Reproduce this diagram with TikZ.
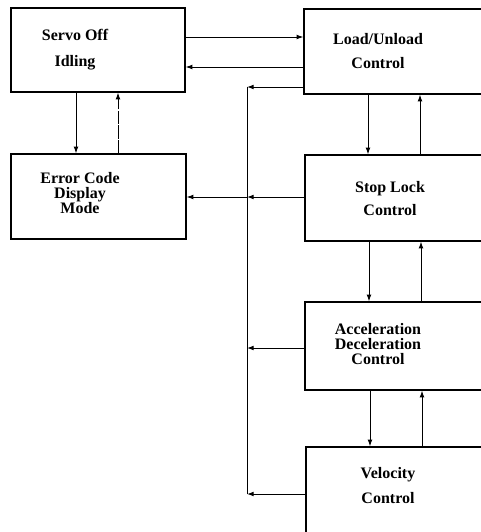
\documentclass[tikz,border=0pt]{standalone}
\usepackage{fontspec}
\setmainfont{Liberation Serif}
\usetikzlibrary{positioning,arrows.meta}

\begin{document}
\begin{tikzpicture} [x=0.75pt,y=-0.75pt,
	blk/.style 2 args={draw,line width=1pt,minimum width=#1*0.75pt,minimum height=#2*0.75pt,inner sep=0pt},
	txt/.style={align=center,font=\fontsize{12}{11.6}\selectfont\bfseries,inner sep=0pt},
	line/.style={line width=0.7pt},
	arr/.style={line width=0.7pt,-{Latex[length=5pt,width=3.6pt]}}]
\useasboundingbox[fill=white] (0,0) rectangle (481,532);
\def\busx{247}

% boxes
\node[blk={174}{84}] (servo) at (98,50) {};
\node[blk={220}{85}] (load) at (414,51.5) {};
\node[blk={175}{85}] (error) at (98.5,196.5) {};
\node[blk={220}{86}] (stop) at (415,198) {};
\node[blk={220}{88}] (accel) at (415,346) {};
\node[blk={220}{113}] (velo) at (416,503.5) {};

\node[txt] (servo-t) at (75,50) {Servo Off\\[7.9pt]Idling};
\node[txt] (load-t) at (378,51) {Load/Unload\\[6.4pt]Control};
\node[txt] (error-t) at (80,193) {Error Code\\Display\\Mode};
\node[txt] (stop-t) at (390,198.5) {Stop Lock\\[5.6pt]Control};
\node[txt] (accel-t) at (378,344) {Acceleration\\Deceleration\\Control};
\node[txt] (velo-t) at (388,485.5) {Velocity\\[7.1pt]Control};

% servo off <-> load/unload, error code
\draw[arr] (servo.east |- 0,37) -- (load.west |- 0,37);
\draw[arr] (load.west |- 0,67) -- (servo.east |- 0,67);
\draw[arr] (servo.south -| 76,0) -- (error.north -| 76,0);
\draw[arr,dash pattern=on 10pt off 1pt] (error.north -| 118,0) -- (servo.south -| 118,0);

% right column chain
\foreach \a/\b/\x in {load/stop/368,stop/accel/369,accel/velo/370}
	\draw[arr] (\a.south -| \x,0) -- (\b.north -| \x,0);
\foreach \a/\b/\x in {stop/load/420,accel/stop/421,velo/accel/422}
	\draw[arr] (\a.north -| \x,0) -- (\b.south -| \x,0);

% status bus back to the display
\coordinate (bus1) at (\busx,87);
\coordinate (bus2) at (\busx,197);
\coordinate (bus3) at (\busx,348);
\coordinate (bus4) at (\busx,494);
\draw[line] (bus1) -- (bus4);
\draw[arr] (load.west |- bus1) -- (bus1);
\draw[arr] (stop.west |- bus2) -- (bus2);
\draw[arr] (accel.west |- bus3) -- (bus3);
\draw[arr] (velo.west |- bus4) -- (bus4);
\draw[arr] (bus2) -- (error.east |- bus2);

\end{tikzpicture}
\end{document}
